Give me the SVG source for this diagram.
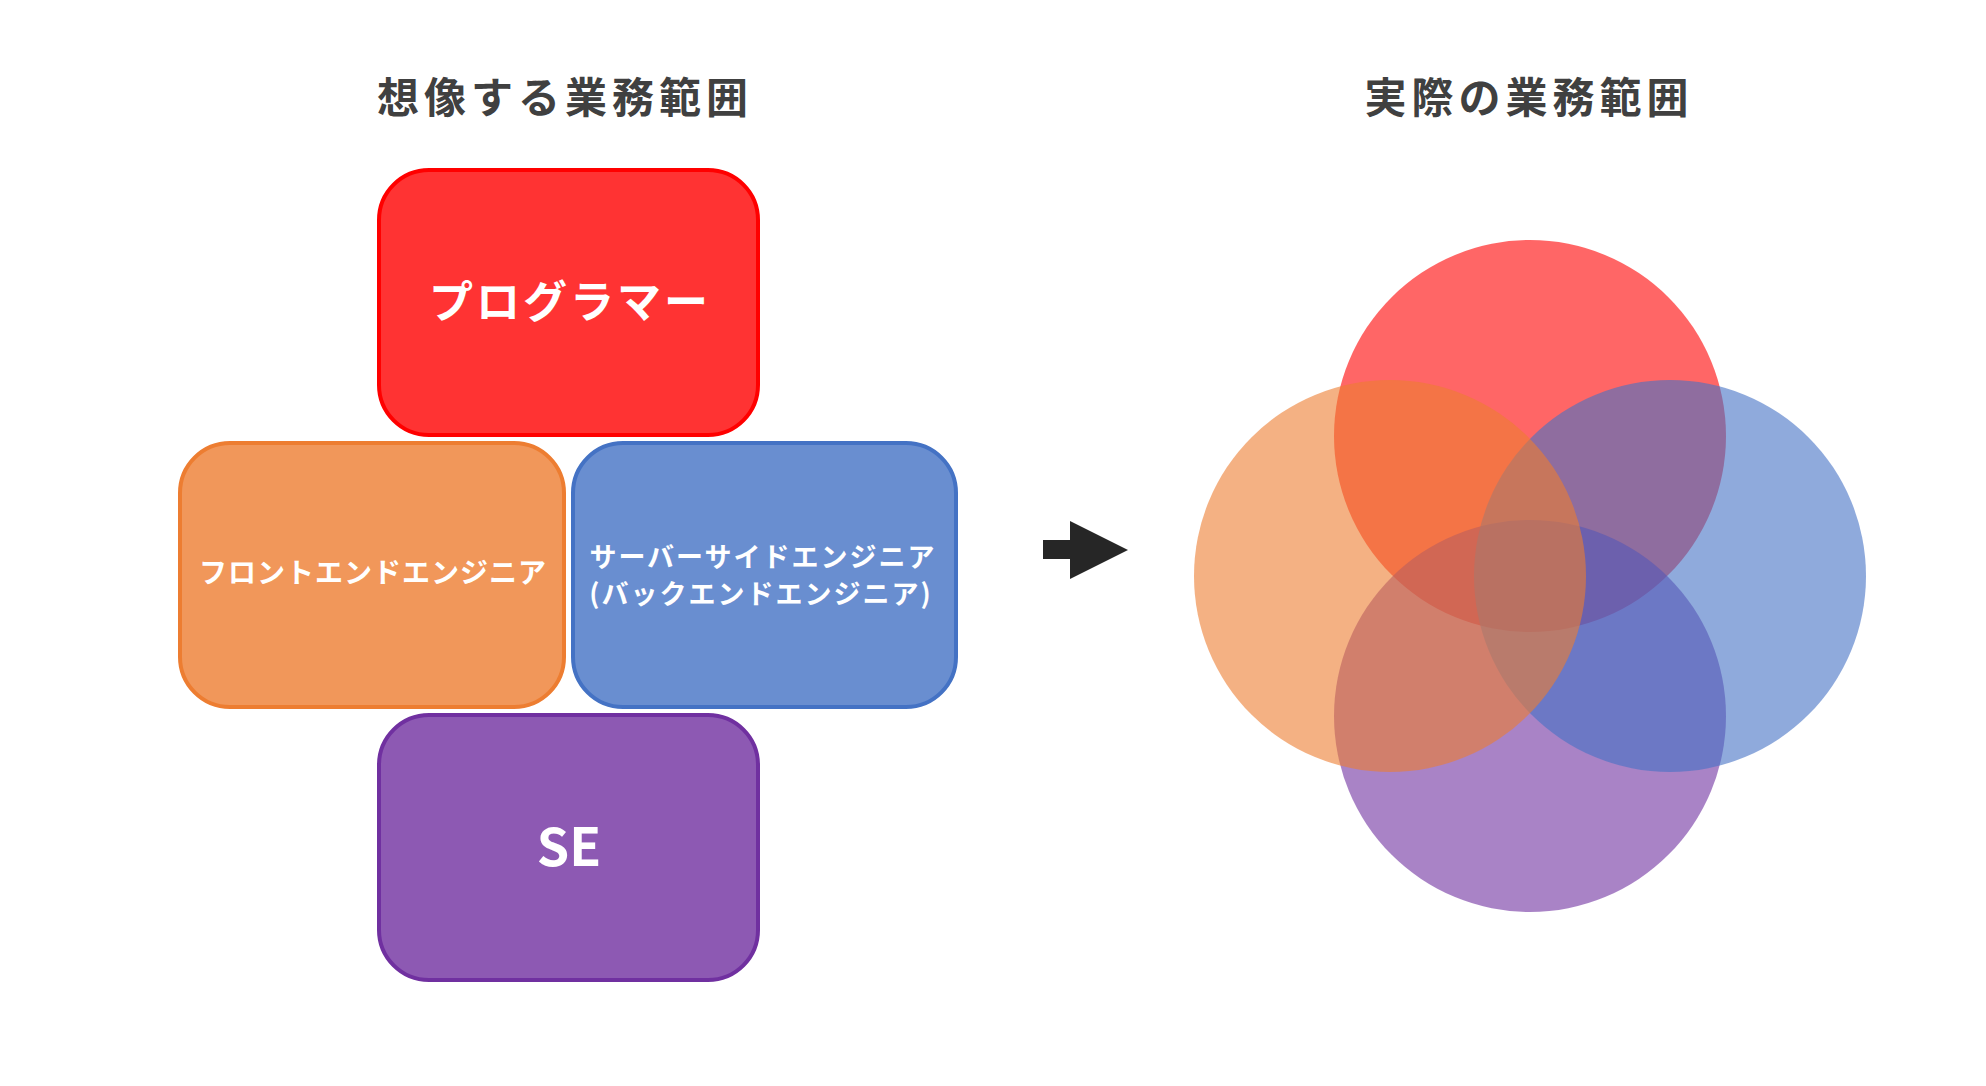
<svg xmlns="http://www.w3.org/2000/svg" width="1986" height="1086" viewBox="0 0 1986 1086">
<style>
.t{font-family:"Noto Sans CJK JP","Noto Sans",sans-serif;font-weight:bold;text-anchor:middle;dominant-baseline:central}
.title{font-size:42px;fill:#404040;letter-spacing:5px}
.lbl{fill:#ffffff}
.box{stroke-width:4}
.c{fill-opacity:0.6}
</style>
<rect width="1986" height="1086" fill="#ffffff"/>
<text class="t title" x="565" y="94">想像する業務範囲</text>
<text class="t title" x="1529" y="94">実際の業務範囲</text>

<g id="programmer">
<rect class="box" x="379" y="170" width="379" height="265" rx="50" fill="#FF3333" stroke="#FF0000"/>
<text class="t lbl" x="570" y="299" font-size="44" letter-spacing="3">プログラマー</text>
</g>
<g id="frontend">
<rect class="box" x="180" y="443" width="384" height="264" rx="50" fill="#F1975A" stroke="#ED7D31"/>
<text class="t lbl" x="373" y="571" font-size="28" letter-spacing="1">フロントエンドエンジニア</text>
</g>
<g id="backend">
<rect class="box" x="573" y="443" width="383" height="264" rx="50" fill="#698ED0" stroke="#4472C4"/>
<text class="t lbl" x="763" y="555" font-size="27" letter-spacing="2">サーバーサイドエンジニア</text>
<text class="t lbl" x="761" y="592" font-size="27" letter-spacing="2">(バックエンドエンジニア)</text>
</g>
<g id="se">
<rect class="box" x="379" y="715" width="379" height="265" rx="50" fill="#8D59B3" stroke="#7030A0"/>
<text class="t lbl" x="569" y="843" font-size="52">SE</text>
</g>

<g id="connectors">
<polygon points="1043,540 1070,540 1070,521 1128,550 1070,579 1070,559 1043,559" fill="#262626"/>
</g>

<g id="venn">
<circle class="c" cx="1530" cy="436" r="196" fill="#FF0000"/>
<circle class="c" cx="1530" cy="716" r="196" fill="#7030A0"/>
<circle class="c" cx="1670" cy="576" r="196" fill="#4472C4"/>
<circle class="c" cx="1390" cy="576" r="196" fill="#ED7D31"/>
</g>
</svg>
